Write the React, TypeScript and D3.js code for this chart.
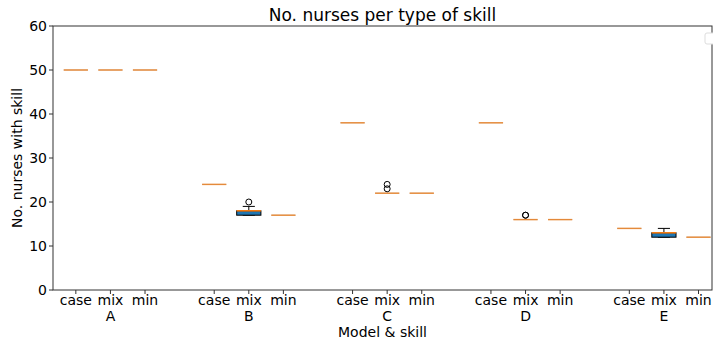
import React from "react";
import * as d3 from "d3";

// model groups and skill types
const groups = ["A", "B", "C", "D", "E"];
const skills = ["case", "mix", "min"];
// box positions: 1,2,3  5,6,7 ...
const positions = [1, 2, 3, 5, 6, 7, 9, 10, 11, 13, 14, 15, 17, 18, 19];

// box stats per position
const q1 = [50, 50, 50, 24, 17, 17, 38, 22, 22, 38, 16, 16, 14, 12, 12];
const median = [50, 50, 50, 24, 18, 17, 38, 22, 22, 38, 16, 16, 14, 13, 12];
const q3 = [50, 50, 50, 24, 18, 17, 38, 22, 22, 38, 16, 16, 14, 13, 12];
const whiskLo = [50, 50, 50, 24, 17, 17, 38, 22, 22, 38, 16, 16, 14, 12, 12];
const whiskHi = [50, 50, 50, 24, 19, 17, 38, 22, 22, 38, 16, 16, 14, 14, 12];
const outliers: number[][] = [
  [], [], [],
  [], [20], [],
  [], [23, 24], [],
  [], [17, 17], [],
  [], [], [],
];
const yTicks = [0, 10, 20, 30, 40, 50, 60];

const W = 713;
const H = 340;
const m = { top: 26, right: 1, bottom: 50, left: 53 };
const font = "DejaVu Sans, sans-serif";

export default function App() {
  const x = d3.scaleLinear().domain([0.34, 19.39]).range([m.left, W - m.right]);
  const y = d3.scaleLinear().domain([0, 60]).range([H - m.bottom, m.top]);
  const bw = x(1.35) - x(1); // half box width
  const cw = bw / 2;

  return (
    <svg width={W} height={H} style={{ position: "absolute", left: 0, top: 0, background: "#fff" }}
      fontFamily={font}>
      <text x={(m.left + W - m.right) / 2} y={21} textAnchor="middle" fontSize={17}>
        No. nurses per type of skill
      </text>

      {positions.map((p, i) => {
        const cx = x(p);
        const flat = q1[i] === q3[i];
        return (
          <g key={i}>
            {!flat && (
              <>
                <line x1={cx} x2={cx} y1={y(q3[i])} y2={y(whiskHi[i])} stroke="#000" />
                <line x1={cx} x2={cx} y1={y(q1[i])} y2={y(whiskLo[i])} stroke="#000" />
                <line x1={cx - cw} x2={cx + cw} y1={y(whiskHi[i])} y2={y(whiskHi[i])} stroke="#000" />
                <line x1={cx - cw} x2={cx + cw} y1={y(whiskLo[i])} y2={y(whiskLo[i])} stroke="#000" />
                <rect x={cx - bw} width={2 * bw} y={y(q3[i])} height={y(q1[i]) - y(q3[i])}
                  fill="#1f77b4" stroke="#000" strokeWidth={1} />
              </>
            )}
            {flat && (
              <line x1={cx - bw} x2={cx + bw} y1={y(q1[i])} y2={y(q1[i])} stroke="#999" strokeWidth={1} />
            )}
            <line x1={cx - bw} x2={cx + bw} y1={y(median[i])} y2={y(median[i])}
              stroke="#ff7f0e" strokeWidth={1.5} strokeOpacity={flat ? 0.7 : 1} />
            {outliers[i].map((o, j) => (
              <circle key={j} cx={cx} cy={y(o)} r={3} fill="none" stroke="#000" strokeWidth={1} />
            ))}
          </g>
        );
      })}

      {/* frame */}
      <rect x={m.left} y={m.top} width={W - m.right - m.left} height={H - m.bottom - m.top}
        fill="none" stroke="#333" strokeWidth={1} />

      {/* y axis */}
      {yTicks.map((t) => (
        <g key={t}>
          <line x1={m.left - 4} x2={m.left} y1={y(t)} y2={y(t)} stroke="#333" />
          <text x={m.left - 6} y={y(t)} dy="0.35em" textAnchor="end" fontSize={14}>{t}</text>
        </g>
      ))}
      <text transform={`translate(22,${(m.top + H - m.bottom) / 2}) rotate(-90)`} textAnchor="middle"
        fontSize={14}>No. nurses with skill</text>

      {/* x axis */}
      {positions.map((p, i) => (
        <g key={i}>
          <line x1={x(p)} x2={x(p)} y1={H - m.bottom} y2={H - m.bottom + 4} stroke="#333" />
          <text x={x(p)} y={H - m.bottom + 15} textAnchor="middle" fontSize={14}>
            {skills[i % 3]}
          </text>
          {i % 3 === 1 && (
            <text x={x(p)} y={H - m.bottom + 31} textAnchor="middle" fontSize={14}>
              {groups[Math.floor(i / 3)]}
            </text>
          )}
        </g>
      ))}
      <text x={(m.left + W - m.right) / 2} y={H - 3} textAnchor="middle" fontSize={14}>Model &amp; skill</text>

      {/* empty legend */}
      <rect x={705} y={33} width={14} height={11} rx={2} fill="#fff" stroke="#ddd" />
    </svg>
  );
}
